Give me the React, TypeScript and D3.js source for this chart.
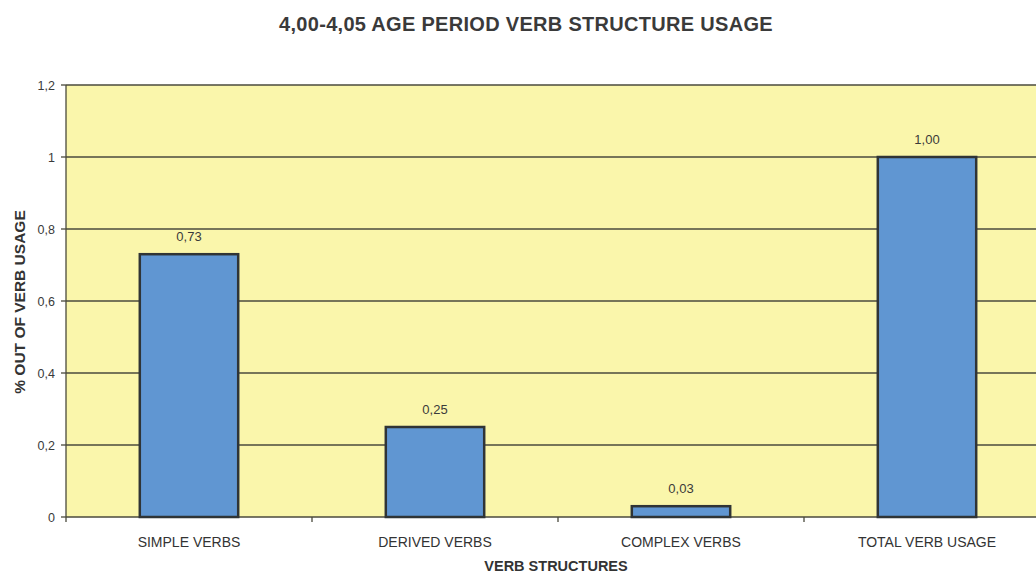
import React from "react";
import * as d3 from "d3";

const categories = ["SIMPLE VERBS", "DERIVED VERBS", "COMPLEX VERBS", "TOTAL VERB USAGE"];
const values = [0.73, 0.25, 0.03, 1.0];
const yTicks = [0, 0.2, 0.4, 0.6, 0.8, 1, 1.2];

const W = 1036, H = 573;
const m = { left: 66, top: 85, right: -14, bottom: 56 };

const fmtTick = (v: number) => (v === 0 || v === 1 ? String(v) : v.toFixed(1).replace(".", ","));
const fmtVal = (v: number) => v.toFixed(2).replace(".", ",");

export default function App() {
  const x = d3.scaleBand<string>().domain(categories).range([m.left, W - m.right]).paddingInner(0.6).paddingOuter(0.3);
  const y = d3.scaleLinear().domain([0, 1.2]).range([H - m.bottom, m.top]);
  const step = x.step();
  const font = "Arial, 'Liberation Sans', sans-serif";
  return (
    <svg width={W} height={H} style={{ position: "absolute", left: 0, top: 0 }} fontFamily={font}>
      <rect x={0} y={0} width={W} height={H} fill="#ffffff" />
      <text x={526} y={31} textAnchor="middle" fontSize={20} letterSpacing={0.3} fontWeight="bold" fill="#3a3a3a">
        4,00-4,05 AGE PERIOD VERB STRUCTURE USAGE
      </text>
      <rect x={m.left} y={m.top} width={W - m.right - m.left} height={y(0) - m.top} fill="#faf6ab" />
      {yTicks.map((t) => (
        <g key={t}>
          <line x1={m.left} x2={W - m.right} y1={y(t)} y2={y(t)} stroke="#4a4a3c" strokeWidth={1.3} />
          <line x1={m.left - 5} x2={m.left} y1={y(t)} y2={y(t)} stroke="#4a4a3c" strokeWidth={1.3} />
          <text x={m.left - 11} y={y(t) + 4.5} textAnchor="end" fontSize={12.5} fill="#3a3a3a">
            {fmtTick(t)}
          </text>
        </g>
      ))}
      <line x1={m.left} x2={m.left} y1={m.top} y2={y(0)} stroke="#4a4a3c" strokeWidth={1.3} />
      {categories.map((c, i) => (
        <line key={"xt" + i} x1={m.left + step * i} x2={m.left + step * i} y1={y(0)} y2={y(0) + 5} stroke="#4a4a3c" strokeWidth={1.3} />
      ))}
      {categories.map((c, i) => (
        <g key={c}>
          <rect x={x(c)} y={y(values[i])} width={x.bandwidth()} height={y(0) - y(values[i])} fill="#6096d2" stroke="#2f3436" strokeWidth={2.5} />
          <text x={(x(c) as number) + x.bandwidth() / 2} y={y(values[i]) - 13} textAnchor="middle" fontSize={13} fill="#3a3a3a">
            {fmtVal(values[i])}
          </text>
          <text x={(x(c) as number) + x.bandwidth() / 2} y={y(0) + 30} textAnchor="middle" fontSize={14} fill="#333">
            {c}
          </text>
        </g>
      ))}
      <text x={556} y={571} textAnchor="middle" fontSize={14.5} fontWeight="bold" fill="#333">
        VERB STRUCTURES
      </text>
      <text transform={`translate(25, 302) rotate(-90)`} textAnchor="middle" fontSize={15.5} fontWeight="bold" fill="#333">
        % OUT OF VERB USAGE
      </text>
    </svg>
  );
}
